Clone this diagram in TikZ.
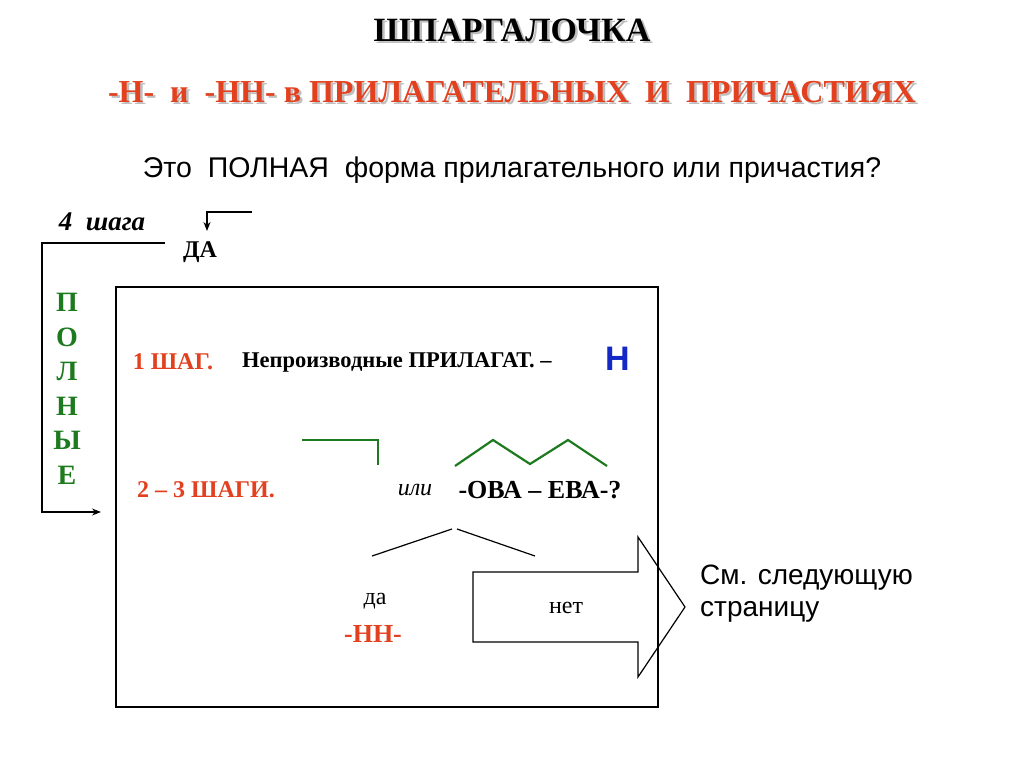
\documentclass[tikz,border=0pt]{standalone}
\usepackage{fontspec}
\setmainfont{Liberation Serif}
\newfontfamily\arial{Liberation Sans}
\usetikzlibrary{arrows.meta}
\definecolor{redt}{HTML}{E2401E}
\definecolor{greent}{HTML}{1E7A1E}
\definecolor{bluet}{HTML}{1428C8}
\begin{document}
\begin{tikzpicture}[x=1pt,y=-1pt,
  ln/.style={line width=1.2pt},
  gl/.style={line width=2.2pt,draw=greent},
  tx/.style={inner sep=0pt,font=\bfseries\fontsize{24}{26}\selectfont}]
\useasboundingbox (0,0) rectangle (1024,767);
\fill[white] (0,0) rectangle (1024,767);
\node[tx,font=\bfseries\fontsize{34}{36}\selectfont,text=gray!50] at (514.5,32.5) {ШПАРГАЛОЧКА};
\node[tx,font=\bfseries\fontsize{34}{36}\selectfont] (t1) at (512,30) {ШПАРГАЛОЧКА};
\node[tx,font=\bfseries\fontsize{32}{34}\selectfont,text=gray!50] at (514.5,94.5) {-Н- \ и \ -НН- в ПРИЛАГАТЕЛЬНЫХ \ И \ ПРИЧАСТИЯХ};
\node[tx,font=\bfseries\fontsize{32}{34}\selectfont,text=redt] (t2) at (512,92) {-Н- \ и \ -НН- в ПРИЛАГАТЕЛЬНЫХ \ И \ ПРИЧАСТИЯХ};
\node[tx,font=\arial\fontsize{28.5}{30}\selectfont] (q) at (512,170) {Это \ ПОЛНАЯ \ форма прилагательного или причастия?};
\node[tx,font=\bfseries\itshape\fontsize{27}{29}\selectfont] (s4) at (102,222) {4 \ шага};
\node[tx] (da) at (200,252) {ДА};
\coordinate (a0) at (252,212);
\coordinate (a1) at (207,212);
\coordinate (a2) at (207,231);
\draw[ln,-{Stealth[length=9pt,width=7pt]}] (a0) -- (a1) -- (a2);
\coordinate (b0) at (165,243);
\coordinate (b1) at (42,243);
\coordinate (b2) at (42,512);
\coordinate (b3) at (101,512);
\draw[ln,-{Stealth[length=9pt,width=7pt]}] (b0) -- (b1) -- (b2) -- (b3);
\foreach \l [count=\i] in {П,О,Л,Н,Ы,Е}
  \node[tx,font=\bfseries\fontsize{28}{30}\selectfont,text=greent] at (67,268+\i*34.5) {\l};
\node[draw,ln,minimum width=542pt,minimum height=420pt,inner sep=0pt] (box) at (387,497) {};
\node[tx,text=redt] (s1) at (173,362) {1 ШАГ.};
\node[tx,anchor=west,font=\bfseries\fontsize{22.5}{24}\selectfont] (np) at (242,362) {Непроизводные ПРИЛАГАТ. –};
\node[tx,anchor=west,font=\arial\bfseries\fontsize{34}{36}\selectfont,text=bluet] (n) at (605,359) {Н};
\node[tx,text=redt] (s2) at (206,490) {2 – 3 ШАГИ.};
\node[tx,font=\itshape\fontsize{24}{26}\selectfont] (ili) at (415,490) {или};
\node[tx,font=\bfseries\fontsize{26}{28}\selectfont] (ova) at (540,490) {-ОВА – ЕВА-?};
\draw[gl] (302,440) -- (378,440) -- (378,465);
\draw[gl] (455,466) -- (493,440) -- (530,464) -- (568,440) -- (607,466);
\draw[ln] (372,556) -- (452,529);
\draw[ln] (457,529) -- (535,556);
\node[tx,font=\fontsize{24}{26}\selectfont] (dd) at (375,601) {да};
\node[tx,font=\bfseries\fontsize{26}{28}\selectfont,text=redt] (nn) at (373,634) {-НН-};
\draw[ln] (473,572) -- (638,572) -- (638,537) -- (685,607) -- (638,677) -- (638,642) -- (473,642) -- cycle;
\node[tx,font=\fontsize{24}{26}\selectfont] (net) at (566,608) {нет};
\node[tx,anchor=west,font=\arial\fontsize{28}{30}\selectfont] (sm1) at (700,578) {См. следующую};
\node[tx,anchor=west,font=\arial\fontsize{28}{30}\selectfont] (sm2) at (700,612) {страницу};
\end{tikzpicture}
\end{document}
